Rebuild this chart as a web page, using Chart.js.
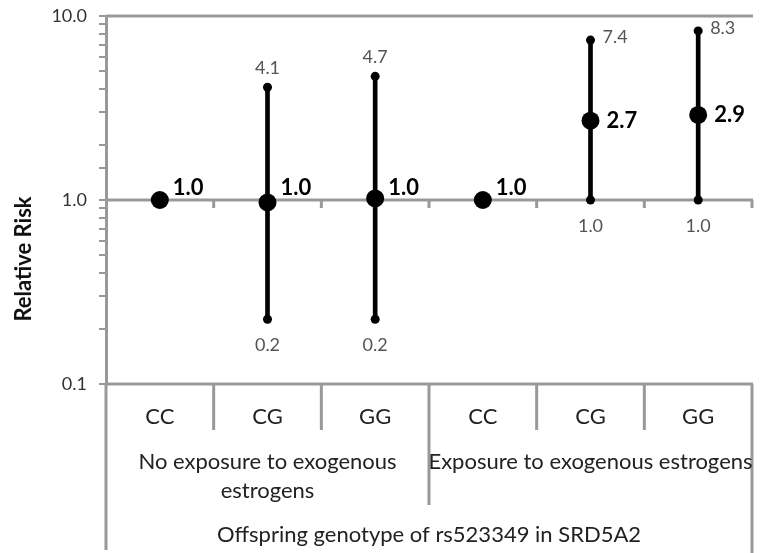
<!DOCTYPE html>
<html>
<head>
<meta charset="utf-8">
<script src="https://cdn.jsdelivr.net/npm/chart.js@4/dist/chart.umd.min.js"></script>
<style>
  html, body { margin: 0; padding: 0; background: #fff; }
  #wrap { width: 761px; height: 553px; }
</style>
</head>
<body>
<div id="wrap"><canvas id="chart" width="761" height="553"></canvas></div>
<script>
// data
const genotypes = ["CC", "CG", "GG", "CC", "CG", "GG"];
const relRisk = [1.0, 0.97, 1.02, 1.0, 2.7, 2.9];
const ciLow = [null, 0.225, 0.225, null, 1.0, 1.0];
const ciHigh = [null, 4.1, 4.7, null, 7.4, 8.3];
const riskLabels = ["1.0", "1.0", "1.0", "1.0", "2.7", "2.9"];
const lowLabels = ["", "0.2", "0.2", "", "1.0", "1.0"];
const highLabels = ["", "4.1", "4.7", "", "7.4", "8.3"];
const groupNames = [["No exposure to exogenous", "estrogens"], ["Exposure to exogenous estrogens"]];
const groupSizes = [3, 3];
const axisTitle = "Offspring genotype of rs523349 in SRD5A2";
const yTicks = [0.1, 1, 10];

const FONT = "Lato, 'Open Sans', sans-serif";
const GRAY = "#999";

const frame = {
  id: "frame",
  beforeDatasetsDraw(chart) {
    const { ctx, chartArea: a, scales: { x, y } } = chart;
    const w = (a.right - a.left) / genotypes.length;
    const y1 = y.getPixelForValue(1);
    ctx.save();
    ctx.strokeStyle = GRAY;
    ctx.lineWidth = 3;
    ctx.beginPath();
    // top, bottom and the 1.0 crossing line
    [a.top, y1, a.bottom].forEach((yy) => { ctx.moveTo(a.left, yy); ctx.lineTo(a.right + 1, yy); });
    // ticks on the category line
    for (let i = 1; i <= genotypes.length; i++) {
      const xx = a.left + i * w;
      ctx.moveTo(xx, y1); ctx.lineTo(xx, y1 + 8);
    }
    // table separators
    ctx.moveTo(a.left, a.bottom); ctx.lineTo(a.left, chart.height - 3);
    let k = 0;
    groupSizes.forEach((n, g) => {
      for (let i = 1; i <= n; i++) {
        const xx = a.left + (k + i) * w;
        const last = i === n;
        const bot = last ? (g === groupSizes.length - 1 ? chart.height : a.bottom + 121) : a.bottom + 46;
        ctx.moveTo(xx, a.bottom); ctx.lineTo(xx, bot);
      }
      k += n;
    });
    ctx.stroke();

    // table texts
    ctx.fillStyle = "#222";
    ctx.textAlign = "center";
    ctx.textBaseline = "middle";
    ctx.font = "22px " + FONT;
    genotypes.forEach((g, i) => ctx.fillText(g, x.getPixelForValue(i), a.bottom + 33));
    k = 0;
    groupSizes.forEach((n, g) => {
      const cx = a.left + (k + n / 2) * w;
      groupNames[g].forEach((line, j) => ctx.fillText(line, cx, a.bottom + 78 + j * 29));
      k += n;
    });
    ctx.fillText(axisTitle, (a.left + a.right) / 2, a.bottom + 151);

    // y title
    ctx.save();
    ctx.translate(24, 259);
    ctx.rotate(-Math.PI / 2);
    ctx.font = "bold 22px " + FONT;
    ctx.fillStyle = "#111";
    ctx.fillText("Relative Risk", 0, 0);
    ctx.restore();
    ctx.restore();
  },
  afterDatasetsDraw(chart) {
    const { ctx, scales: { x, y } } = chart;
    const y1 = y.getPixelForValue(1);
    ctx.save();
    relRisk.forEach((v, i) => {
      const px = x.getPixelForValue(i);
      const raised = ciLow[i] !== 1;
      ctx.textBaseline = "middle";
      ctx.textAlign = "left";
      ctx.font = "bold 22px " + FONT;
      ctx.fillStyle = "#000";
      // labels at 1.0 sit a bit above the line
      ctx.fillText(riskLabels[i], px + (raised ? 13 : 16), raised ? y1 - 12 : y.getPixelForValue(v));
      ctx.font = "18px " + FONT;
      ctx.fillStyle = "#555";
      if (ciHigh[i] != null) {
        const hy = y.getPixelForValue(ciHigh[i]);
        if (raised) {
          ctx.textAlign = "center";
          ctx.fillText(highLabels[i], px, hy - 19);
        } else {
          ctx.fillText(highLabels[i], px + 12, hy - 3);
        }
        ctx.textAlign = "center";
        ctx.fillText(lowLabels[i], px, y.getPixelForValue(ciLow[i]) + 26);
      }
    });
    ctx.restore();
  },
};

new Chart(document.getElementById("chart"), {
  type: "bar",
  data: {
    labels: genotypes,
    datasets: [
      {
        data: ciLow.map((lo, i) => (lo == null ? null : [lo, ciHigh[i]])),
        backgroundColor: "#000",
        barThickness: 4,
        order: 3,
      },
      {
        type: "line",
        data: ciLow,
        showLine: false,
        pointRadius: 4.5,
        pointBackgroundColor: "#000",
        pointBorderWidth: 0,
        order: 2,
      },
      {
        type: "line",
        data: ciHigh,
        showLine: false,
        pointRadius: 4.5,
        pointBackgroundColor: "#000",
        pointBorderWidth: 0,
        order: 2,
      },
      {
        type: "line",
        data: relRisk,
        showLine: false,
        pointRadius: 9,
        pointBackgroundColor: "#000",
        pointBorderWidth: 0,
        order: 1,
      },
    ],
  },
  options: {
    responsive: false,
    animation: false,
    layout: { padding: { top: 16, right: 4, bottom: 169, left: 0 } },
    plugins: { legend: { display: false }, tooltip: { enabled: false } },
    scales: {
      x: { display: false, offset: true },
      y: {
        type: "logarithmic",
        min: 0.1,
        max: 10,
        afterFit: (s) => {
          s.width = 106;
          s.paddingTop = 0;
          s.paddingBottom = 0;
        },
        border: { color: GRAY, width: 3 },
        grid: { drawOnChartArea: false, color: GRAY, lineWidth: 2, tickLength: 7 },
        ticks: {
          autoSkip: false,
          padding: 12,
          color: "#333",
          font: { family: FONT, size: 18 },
          callback: (v) => (yTicks.includes(Number(v)) ? Number(v).toFixed(1) : ""),
        },
      },
    },
  },
  plugins: [frame],
});
</script>
</body>
</html>
